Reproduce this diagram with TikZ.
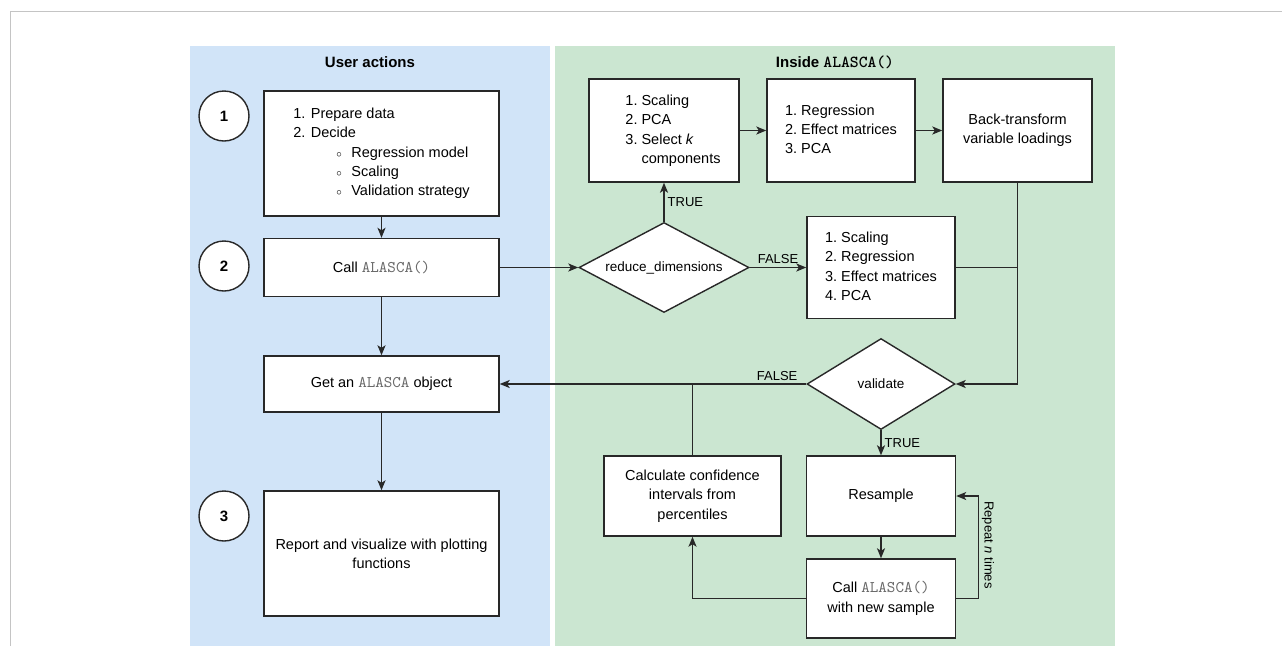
\documentclass[tikz,border=0pt]{standalone}
\usepackage{fontspec}
\setmainfont{Liberation Sans}
\newfontfamily\codefont{lmmono10-regular.otf}[Scale=1.12]
\newfontfamily\codefontbf{lmmonolt10-bold.otf}[Scale=1.12]
\usepackage{tikz}
\usetikzlibrary{positioning, arrows.meta, shapes.geometric}

\definecolor{userblue}{RGB}{209,228,248}
\definecolor{insidegreen}{RGB}{203,230,209}
\definecolor{framegray}{RGB}{196,196,196}
\definecolor{linegray}{RGB}{40,40,40}
\definecolor{codegray}{RGB}{105,105,105}

\newcommand{\code}[1]{{\codefont\color{codegray}#1}}
\newcommand{\bulletitem}{\hspace*{43pt}\makebox[15pt][l]{\fontsize{11}{11}\selectfont$\circ$}}

\begin{document}
\begin{tikzpicture}[
    x=1pt, y=-1pt,
    box/.style={draw=linegray, line width=1.4pt, fill=white, inner sep=0pt, font=\fontsize{14.5}{19.3}\selectfont},
    decision/.style={diamond, aspect=2, draw=linegray, line width=1.4pt, fill=white, inner sep=0pt, font=\fontsize{13.5}{16}\selectfont},
    stepnum/.style={circle, draw=linegray, line width=1.4pt, fill=white, minimum size=50pt, inner sep=0pt, font=\bfseries\fontsize{15}{18}\selectfont},
    arrow/.style={-{Stealth[length=10pt, width=8pt, inset=2.5pt]}, draw=linegray, line width=1.4pt},
    link/.style={draw=linegray, line width=1.4pt},
    branch/.style={font=\fontsize{13}{15}\selectfont, inner sep=3pt},
    title/.style={font=\bfseries\fontsize{15}{18}\selectfont}
]
    \useasboundingbox (0,0) rectangle (1282,646);

    % === Panels ===
    \draw[framegray, line width=1pt] (10,646) -- (10,11) -- (1282,11);
    \fill[userblue] (190,46) rectangle (550,646);
    \fill[insidegreen] (555,46) rectangle (1115,646);

    \node[title] (usertitle) at (370,62) {User actions};
    \node[title] (insidetitle) at (835,62) {Inside {\codefontbf ALASCA()}};

    % === User actions ===
    \node[stepnum] (one) at (224,116) {1};
    \node[box, minimum width=235pt, minimum height=125pt, align=left] (prep) at (381.5,153.5) {
        1. Prepare data\\
        2. Decide\\
        \bulletitem Regression model\\
        \bulletitem Scaling\\
        \bulletitem Validation strategy
    };

    \node[stepnum] (two) at (224,266) {2};
    \node[box, minimum width=235pt, minimum height=58pt] (call) at (381.5,267.5) {Call \code{ALASCA()}};

    \node[box, minimum width=235pt, minimum height=56pt] (getobj) at (381.5,384) {Get an \code{ALASCA} object};

    \node[stepnum] (three) at (224,516) {3};
    \node[box, minimum width=235pt, minimum height=125pt, align=center] (report) at (381.5,553.5) {Report and visualize with plotting\\functions};

    % === Inside ALASCA() ===
    \node[decision, minimum width=170pt, minimum height=90pt] (reduce) at (664,267.5) {reduce\_dimensions};

    \node[box, minimum width=150pt, minimum height=103pt] (reduced) at (664,130.5) {
        \hspace*{18pt}\begin{tabular}{@{}r@{~}l@{}}
        1. & Scaling\\ 2. & PCA\\ 3. & Select \textit{k}\\ & components
        \end{tabular}};
    \node[box, minimum width=148pt, minimum height=103pt] (effects) at (841,130.5) {
        \begin{tabular}{@{}r@{~}l@{}}
        1. & Regression\\ 2. & Effect matrices\\ 3. & PCA
        \end{tabular}};
    \node[box, minimum width=149pt, minimum height=103pt, align=center] (backtrans) at (1017.5,130.5) {Back-transform\\variable loadings};

    \node[box, minimum width=148pt, minimum height=102pt] (direct) at (881,267.5) {
        \begin{tabular}{@{}r@{~}l@{}}
        1. & Scaling\\ 2. & Regression\\ 3. & Effect matrices\\ 4. & PCA
        \end{tabular}};

    \node[decision, minimum width=148pt, minimum height=91pt] (validate) at (881,384) {validate};

    \node[box, minimum width=177pt, minimum height=80pt, align=center] (confint) at (692.5,496) {Calculate confidence\\intervals from\\percentiles};
    \node[box, minimum width=149pt, minimum height=80pt] (resample) at (881,496) {Resample};
    \node[box, minimum width=149pt, minimum height=79pt, align=center] (callnew) at (881,598.5) {Call \code{ALASCA()}\\with new sample};

    % === Connectors ===
    \draw[arrow] (prep.south) -- (call.north);
    \draw[arrow] (call.south) -- (getobj.north);
    \draw[arrow] (getobj.south) -- (report.north);
    \draw[arrow] (call.east) -- (reduce.west);

    \draw[arrow] (reduce.north) -- node[branch, right] {TRUE} (reduced.south);
    \draw[arrow] (reduce.east) -- node[branch, above] {FALSE} (direct.west);
    \draw[arrow] (reduced.east) -- (effects.west);
    \draw[arrow] (effects.east) -- (backtrans.west);
    \draw[arrow] (backtrans.south) |- (validate.east);
    \draw[link] (direct.east) -- (direct.east -| backtrans.south);

    \draw[arrow] (validate.west) -- node[branch, above, pos=0.095] {FALSE} (getobj.east);
    \draw[link] (confint.north) -- (confint.north |- validate.west);
    \draw[arrow] (validate.south) -- node[branch, right] {TRUE} (resample.north);
    \draw[arrow] (resample.south) -- (callnew.north);

    % repeat loop
    \draw[arrow] (callnew.east) -- ++(22,0) |- (resample.east);
    \node[branch, rotate=-90] (repeatlbl) at (988,545) {Repeat \textit{n} times};
    \draw[arrow] (callnew.west) -| (confint.south);

\end{tikzpicture}
\end{document}
